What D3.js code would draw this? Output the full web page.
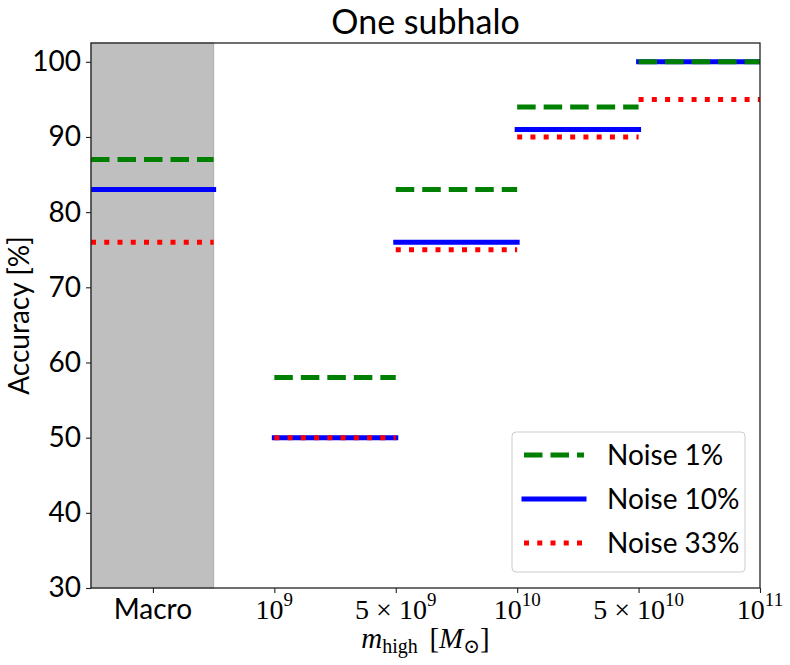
<!DOCTYPE html>
<html>
<head>
<meta charset="utf-8">
<script src="https://cdn.jsdelivr.net/npm/d3@7"></script>
<style>
  body { margin: 0; background: #fff; }
  svg { display: block; }
</style>
</head>
<body>
<script>
// Data
var binStart = [-0.51, 1, 2, 3, 4],          // x-index where each segment starts
	binEnd = [0.5, 2, 3, 4, 5],             // x-index where each segment ends
	noise1 = [87, 58, 83, 94, 100],
	noise10 = [83, 50, 76, 91, 100],
	noise33 = [76, 50, 75, 90, 95],
	seriesNames = ["Noise 1%", "Noise 10%", "Noise 33%"],
	xTickLabels = ["Macro", "10^9", "5×10^9", "10^10", "5×10^10", "10^11"],
	yTicks = [30, 40, 50, 60, 70, 80, 90, 100];

var W = 790, H = 665,
	margin = {top: 43, right: 30, bottom: 77, left: 91},
	w = W - margin.left - margin.right,
	h = H - margin.top - margin.bottom,
	sans = "Lato, 'Open Sans', sans-serif",
	serif = "'Liberation Serif', 'DejaVu Serif', serif";

var svg = d3.select("body").append("svg")
	.attr("width", W)
	.attr("height", H);

var g = svg.append("g")
	.attr("transform", "translate(" + margin.left + "," + margin.top + ")");

var x = d3.scaleLinear().domain([-0.51, 5]).range([0, w]);
var y = d3.scaleLinear().domain([30, 102.5]).range([h, 0]);

svg.append("defs").append("clipPath").attr("id", "clip")
	.append("rect").attr("width", w).attr("height", h);

// Shaded macro region
g.append("rect")
	.attr("x", x(-0.51))
	.attr("y", 0)
	.attr("width", x(0.5) - x(-0.51))
	.attr("height", h)
	.attr("fill", "#bfbfbf")
	.attr("stroke", "#aaaaaa")
	.attr("stroke-width", 1);

// Series: blue under the dashed green, red dots on top
var series = [
	{name: seriesNames[1], values: noise10, color: "blue", dash: null, cap: "square"},
	{name: seriesNames[0], values: noise1, color: "green", dash: "18.5,8", cap: "butt"},
	{name: seriesNames[2], values: noise33, color: "red", dash: "5,8.25", cap: "butt"}
];

var lines = g.append("g").attr("clip-path", "url(#clip)");
series.forEach(function(s) {
	lines.selectAll(null)
		.data(s.values)
		.enter()
		.append("line")
		.attr("x1", function(d, i) { return x(binStart[i]); })
		.attr("x2", function(d, i) { return x(binEnd[i]); })
		.attr("y1", function(d) { return y(d); })
		.attr("y2", function(d) { return y(d); })
		.attr("stroke", s.color)
		.attr("stroke-width", 5)
		.attr("stroke-linecap", s.cap)
		.attr("stroke-dasharray", s.dash);
});

// Frame
g.append("rect")
	.attr("width", w)
	.attr("height", h)
	.attr("fill", "none")
	.attr("stroke", "#222")
	.attr("stroke-width", 1.3);

// Y axis
var yAxis = g.append("g")
	.call(d3.axisLeft(y).tickValues(yTicks).tickSize(5).tickPadding(5));
yAxis.select(".domain").remove();
yAxis.selectAll("line").attr("stroke", "#222").attr("stroke-width", 1.1);
yAxis.selectAll("text")
	.attr("font-family", sans)
	.attr("font-size", "28px")
	.attr("fill", "#000");

// X axis
var xAxis = g.append("g")
	.attr("transform", "translate(0," + h + ")")
	.call(d3.axisBottom(x).tickValues(d3.range(xTickLabels.length)).tickSize(5).tickFormat(""));
xAxis.select(".domain").remove();
xAxis.selectAll("line").attr("stroke", "#222").attr("stroke-width", 1.1);

xTickLabels.forEach(function(lab, i) {
	var t = g.append("text")
		.attr("x", x(i))
		.attr("y", h + 31)
		.attr("text-anchor", "middle")
		.attr("font-size", "28px")
		.attr("fill", "#000");
	if (lab.indexOf("^") < 0) {
		t.attr("font-family", sans).text(lab);
		return;
	}
	var parts = lab.split("^"), base = parts[0];
	t.attr("font-family", serif);
	if (base.indexOf("×") >= 0) {
		var m = base.split("×");
		t.append("tspan").text(m[0] + " × " + m[1]);
	} else {
		t.append("tspan").text(base);
	}
	t.append("tspan")
		.attr("dy", -13)
		.attr("font-size", "19px")
		.text(parts[1]);
});

// Axis labels
var xl = g.append("text")
	.attr("x", w / 2)
	.attr("y", h + 60)
	.attr("text-anchor", "middle")
	.attr("font-family", serif)
	.attr("font-size", "29px")
	.attr("fill", "#000");
xl.append("tspan").attr("font-style", "italic").text("m");
xl.append("tspan").attr("font-size", "20px").attr("dy", 5).text("high");
xl.append("tspan").attr("dy", -5).text("\u2009\u2009[");
xl.append("tspan").attr("font-style", "italic").text("M");
xl.append("tspan").attr("font-size", "20px").attr("dy", 5)
	.attr("font-family", "'DejaVu Serif', serif").text("\u2299");
xl.append("tspan").attr("dy", -5).text("]");

g.append("text")
	.attr("transform", "translate(" + (29 - margin.left) + "," + (h / 2) + ") rotate(-90)")
	.attr("text-anchor", "middle")
	.attr("font-family", sans)
	.attr("font-size", "28px")
	.attr("fill", "#000")
	.text("Accuracy [%]");

// Title
g.append("text")
	.attr("x", w / 2)
	.attr("y", -9)
	.attr("text-anchor", "middle")
	.attr("font-family", sans)
	.attr("font-size", "34px")
	.attr("fill", "#000")
	.text("One subhalo");

// Legend
var lg = g.append("g")
	.attr("transform", "translate(" + (w - 248) + "," + (h - 156) + ")");
lg.append("rect")
	.attr("width", 233)
	.attr("height", 140)
	.attr("rx", 4)
	.attr("fill", "#fff")
	.attr("fill-opacity", 0.8)
	.attr("stroke", "#cccccc")
	.attr("stroke-width", 1);

var legendOrder = [series[1], series[0], series[2]];
legendOrder.forEach(function(s, i) {
	var ly = 23 + i * 44;
	lg.append("line")
		.attr("x1", 12)
		.attr("x2", 72)
		.attr("y1", ly)
		.attr("y2", ly)
		.attr("stroke", s.color)
		.attr("stroke-width", 5)
		.attr("stroke-linecap", s.cap)
		.attr("stroke-dasharray", s.dash);
	lg.append("text")
		.attr("x", 95)
		.attr("y", ly + 10)
		.attr("font-family", sans)
		.attr("font-size", "28px")
		.attr("fill", "#000")
		.text(s.name);
});
</script>
</body>
</html>
